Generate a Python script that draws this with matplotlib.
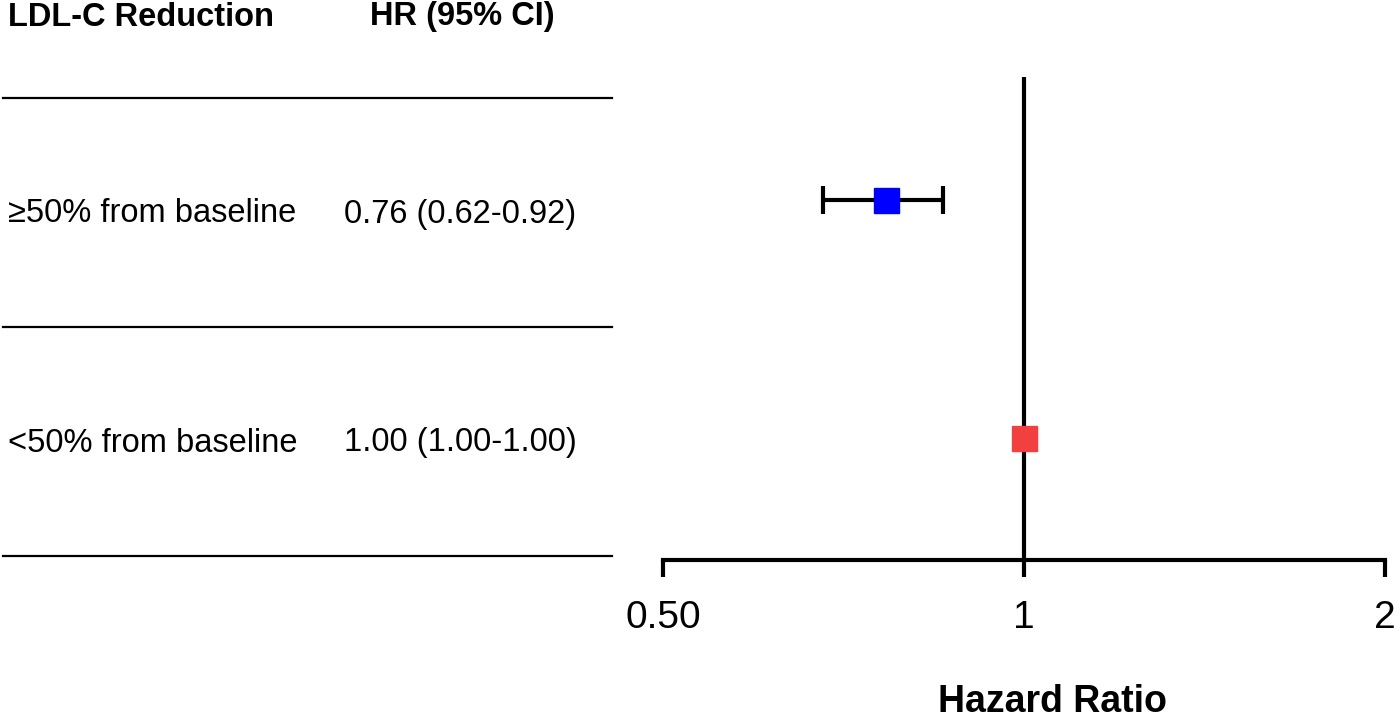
import matplotlib.pyplot as plt

plt.rcParams['font.family'] = ['Liberation Sans', 'DejaVu Sans']

groups = ["\u226550% from baseline", "<50% from baseline"]
hr_text = ["0.76 (0.62-0.92)", "1.00 (1.00-1.00)"]
# plotted values
hr = [0.767, 1.0]
ci_low = [0.68, 1.0]
ci_high = [0.856, 1.0]
colors = ["#0000FF", "#F24040"]
ticks = [0.5, 1, 2]
tick_labels = ["0.50", "1", "2"]

W, H = 1400, 722
fig = plt.figure(figsize=(14, 7.22), dpi=100)

# left table, in pixel coords
tab = fig.add_axes([0, 0, 1, 1])
tab.set_xlim(0, W)
tab.set_ylim(H, 0)
tab.axis("off")
tab.text(8, 17, "LDL-C Reduction", fontsize=23.5, fontweight="bold", va="center")
tab.text(370, 17, "HR (95% CI)", fontsize=23.5, fontweight="bold", va="center")
for yl in [98, 327, 556]:
    tab.plot([3, 612], [yl, yl], color="black", lw=1.6)
row_y = [214, 443]
for i in range(len(groups)):
    tab.text(8, row_y[i], groups[i], fontsize=23.5, va="center")
    tab.text(344, row_y[i], hr_text[i], fontsize=23.5, va="center")

# forest plot
x0, x1 = 663, 1385
ytop, ybot = 77, 560
ax = fig.add_axes([x0 / W, 1 - ybot / H, (x1 - x0) / W, (ybot - ytop) / H])
ax.set_xscale("log")
ax.set_xlim(0.5, 2)
ax.set_ylim(2.513, 0.483)
ax.patch.set_alpha(0)

ax.axvline(1, color="black", lw=3, zorder=1)
for i in range(len(hr)):
    y = i + 1
    if ci_high[i] > ci_low[i]:
        ax.errorbar(hr[i], y, xerr=[[hr[i] - ci_low[i]], [ci_high[i] - hr[i]]],
                    fmt="none", ecolor="black", elinewidth=3, capsize=10,
                    capthick=3, zorder=2)
    ax.plot(hr[i], y, marker="s", markersize=18, color=colors[i],
            linestyle="none", zorder=3)

for s in ["top", "right", "left"]:
    ax.spines[s].set_visible(False)
ax.spines["bottom"].set_linewidth(3)
ax.set_yticks([])
ax.set_xticks(ticks)
ax.set_xticklabels(tick_labels)
ax.minorticks_off()
ax.tick_params(axis="x", direction="out", length=12, width=3, pad=17,
               labelsize=28)
ax.set_xlabel("Hazard Ratio", fontsize=27, fontweight="bold", labelpad=34)
ax.xaxis.label.set_x(0.54)

fig.savefig("out.png", dpi=100)
